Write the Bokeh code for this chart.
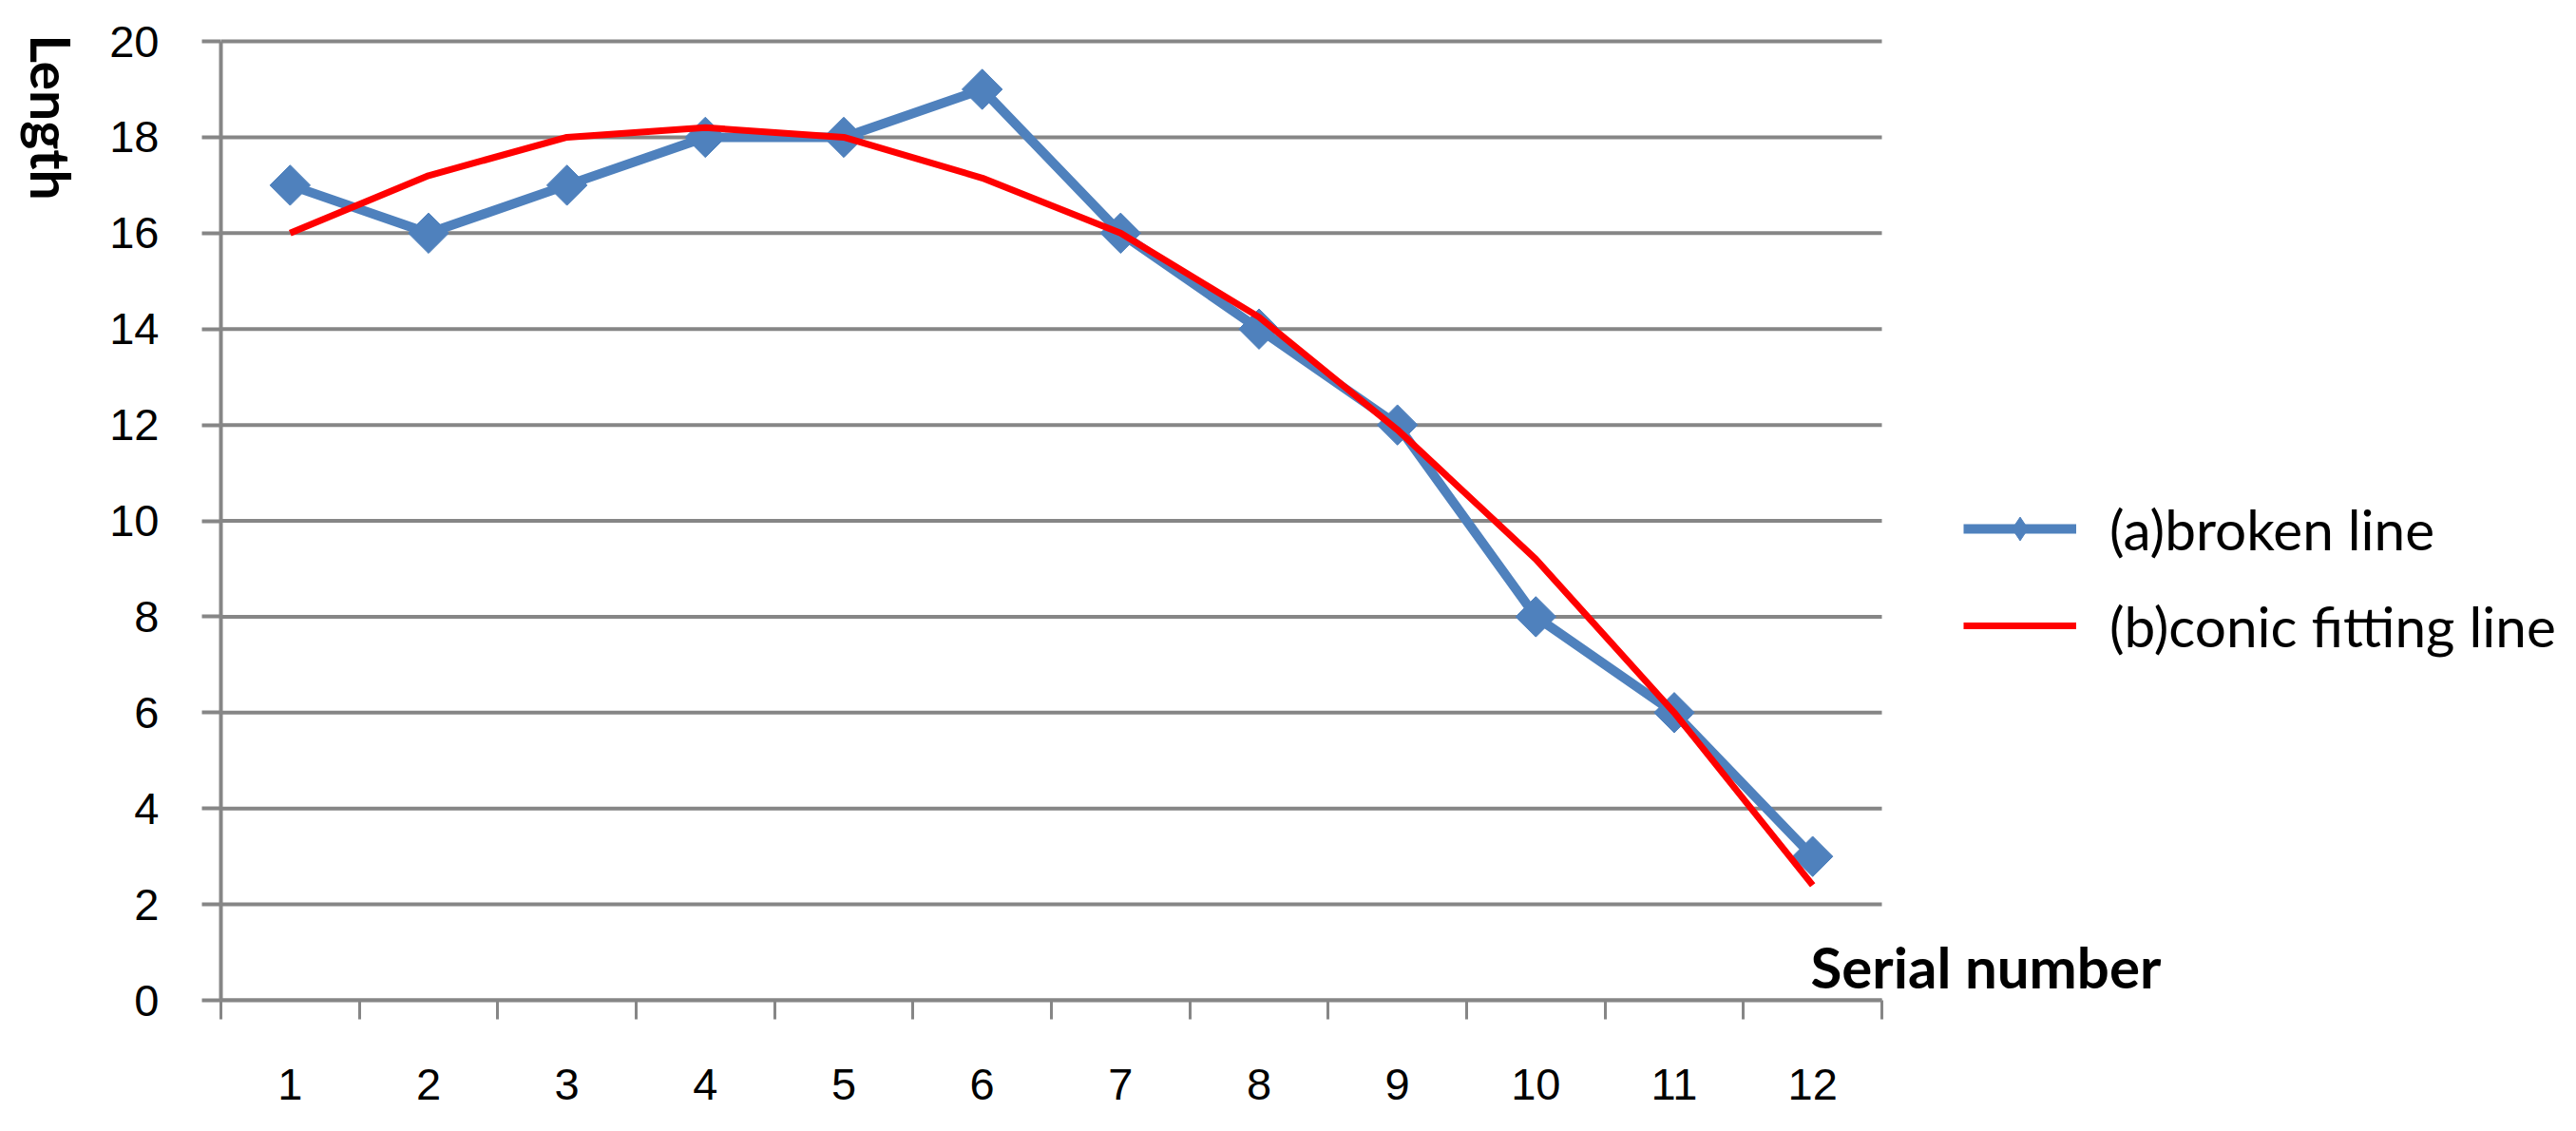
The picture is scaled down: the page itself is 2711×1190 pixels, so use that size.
import math
from bokeh.plotting import figure
from bokeh.layouts import row
from bokeh.models import FixedTicker, Legend, LegendItem, Label, Range1d
from bokeh.embed import file_html
from bokeh.resources import INLINE

# ---- data ----
serial = [1, 2, 3, 4, 5, 6, 7, 8, 9, 10, 11, 12]
broken_line = [17, 16, 17, 18, 18, 19, 16, 14, 12, 8, 6, 3]
conic_fit = [16.0, 17.2, 18.0, 18.2, 18.0, 17.15, 16.0, 14.25, 11.9, 9.2, 6.0, 2.4]
y_ticks = [0, 2, 4, 6, 8, 10, 12, 14, 16, 18, 20]
x_label = "Serial number"
y_label = "Length"
series_names = ["(a)broken line", "(b)conic fitting line"]

BLUE = "#4F81BD"
RED = "#FF0000"
GRAY = "#868686"

H = 1180            # total height of the page content
LEFT_W = 100        # strip that holds the rotated y title
CAT_PX = 1748 / 12  # width of one category on screen
FRAME_W = 2471      # frame extends right so legend / x title are not clipped

x_start = serial[0] - 0.5
x_end = x_start + FRAME_W / CAT_PX

p = figure(
    frame_width=FRAME_W, frame_height=1014,
    min_border_left=132, min_border_right=0,
    min_border_top=36, min_border_bottom=H - 36 - 1014,
    x_range=Range1d(x_start, x_end),
    y_range=Range1d(y_ticks[0], y_ticks[-1] + 0.1),
    output_backend="svg", toolbar_location=None,
)
p.outline_line_color = None
p.background_fill_color = "white"
p.border_fill_color = "white"
p.xgrid.visible = False
p.ygrid.visible = False

# horizontal grid lines, limited to the category span
n = len(y_ticks)
p.segment(x0=[serial[0] - 0.5] * n, x1=[serial[-1] + 0.5] * n,
          y0=y_ticks, y1=y_ticks, line_color=GRAY, line_width=4,
          level="underlay")

# x axis: labels at centres, tick marks at category boundaries
xa = p.xaxis[0]
xa.bounds = (serial[0] - 0.5, serial[-1] + 0.5)
xa.ticker = FixedTicker(ticks=serial,
                        minor_ticks=[s - 0.5 for s in serial] + [serial[-1] + 0.5])
xa.axis_line_color = GRAY
xa.axis_line_width = 4
xa.major_tick_line_color = None
xa.major_tick_out = 20
xa.major_tick_in = 0
xa.minor_tick_line_color = GRAY
xa.minor_tick_line_width = 3
xa.minor_tick_out = 20
xa.minor_tick_in = 0
xa.major_label_standoff = 52
xa.major_label_text_font = "Liberation Sans"
xa.major_label_text_font_size = "47px"
xa.major_label_text_color = "black"

ya = p.yaxis[0]
ya.bounds = (y_ticks[0], y_ticks[-1])
ya.ticker = FixedTicker(ticks=y_ticks)
ya.axis_line_color = GRAY
ya.axis_line_width = 4
ya.major_tick_line_color = GRAY
ya.major_tick_line_width = 4
ya.major_tick_out = 20
ya.major_tick_in = 0
ya.minor_tick_line_color = None
ya.major_label_standoff = 45
ya.major_label_text_font = "Liberation Sans"
ya.major_label_text_font_size = "47px"
ya.major_label_text_color = "black"

# series
bl = p.line(serial, broken_line, line_color=BLUE, line_width=10, line_join="round")
# narrow diamonds (used for the legend swatch), hidden beneath the plot markers
lm = p.scatter(serial, broken_line, marker="diamond", size=40,
               fill_color=BLUE, line_color=BLUE)
bm = p.scatter(serial, broken_line, marker="square", size=30, angle=math.pi / 4,
               fill_color=BLUE, line_color=BLUE)
rl = p.line(serial, conic_fit, line_color=RED, line_width=7)

legend = Legend(
    items=[LegendItem(label=series_names[0], renderers=[bl, lm]),
           LegendItem(label=series_names[1], renderers=[rl])],
    location=(1834, 359),
    orientation="vertical",
    glyph_width=119, glyph_height=62,
    label_height=62, label_standoff=35,
    spacing=32, padding=0, margin=0,
    border_line_color=None, background_fill_alpha=0,
    label_text_font="Lato", label_text_font_size="58.5px",
    label_text_color="black",
)
p.add_layout(legend)

p.add_layout(Label(x=1673, y=36, x_units="screen", y_units="screen",
                   text=x_label, text_font="Lato", text_font_style="bold",
                   text_font_size="60px", text_color="black",
                   text_align="left", text_baseline="middle"))

# left strip: the y title is the label of a bare right-hand axis,
# which reads from top to bottom; its frame spans the title's height
TITLE_TOP, TITLE_BOTTOM = 38, 208
q = figure(frame_width=5, frame_height=TITLE_BOTTOM - TITLE_TOP,
           min_border_left=0, min_border_right=LEFT_W - 5,
           min_border_top=TITLE_TOP, min_border_bottom=H - TITLE_BOTTOM,
           x_range=Range1d(0, 1), y_range=Range1d(0, 1),
           x_axis_location=None, y_axis_location="right",
           output_backend="svg", toolbar_location=None)
q.outline_line_color = None
q.background_fill_color = "white"
q.border_fill_color = "white"
q.xgrid.visible = False
q.ygrid.visible = False
qa = q.yaxis[0]
qa.ticker = FixedTicker(ticks=[0.5])
qa.major_label_overrides = {0.5: ""}
qa.axis_line_color = None
qa.major_tick_line_color = None
qa.minor_tick_line_color = None
qa.major_tick_out = 0
qa.major_tick_in = 0
qa.minor_tick_out = 0
qa.minor_tick_in = 0
qa.major_label_standoff = 0
qa.axis_label = y_label
qa.axis_label_standoff = 14
qa.axis_label_text_font = "Lato"
qa.axis_label_text_font_style = "bold"
qa.axis_label_text_font_size = "57px"
qa.axis_label_text_color = "black"

layout = row(q, p, spacing=0)
open("out.html", "w").write(file_html(layout, INLINE))
